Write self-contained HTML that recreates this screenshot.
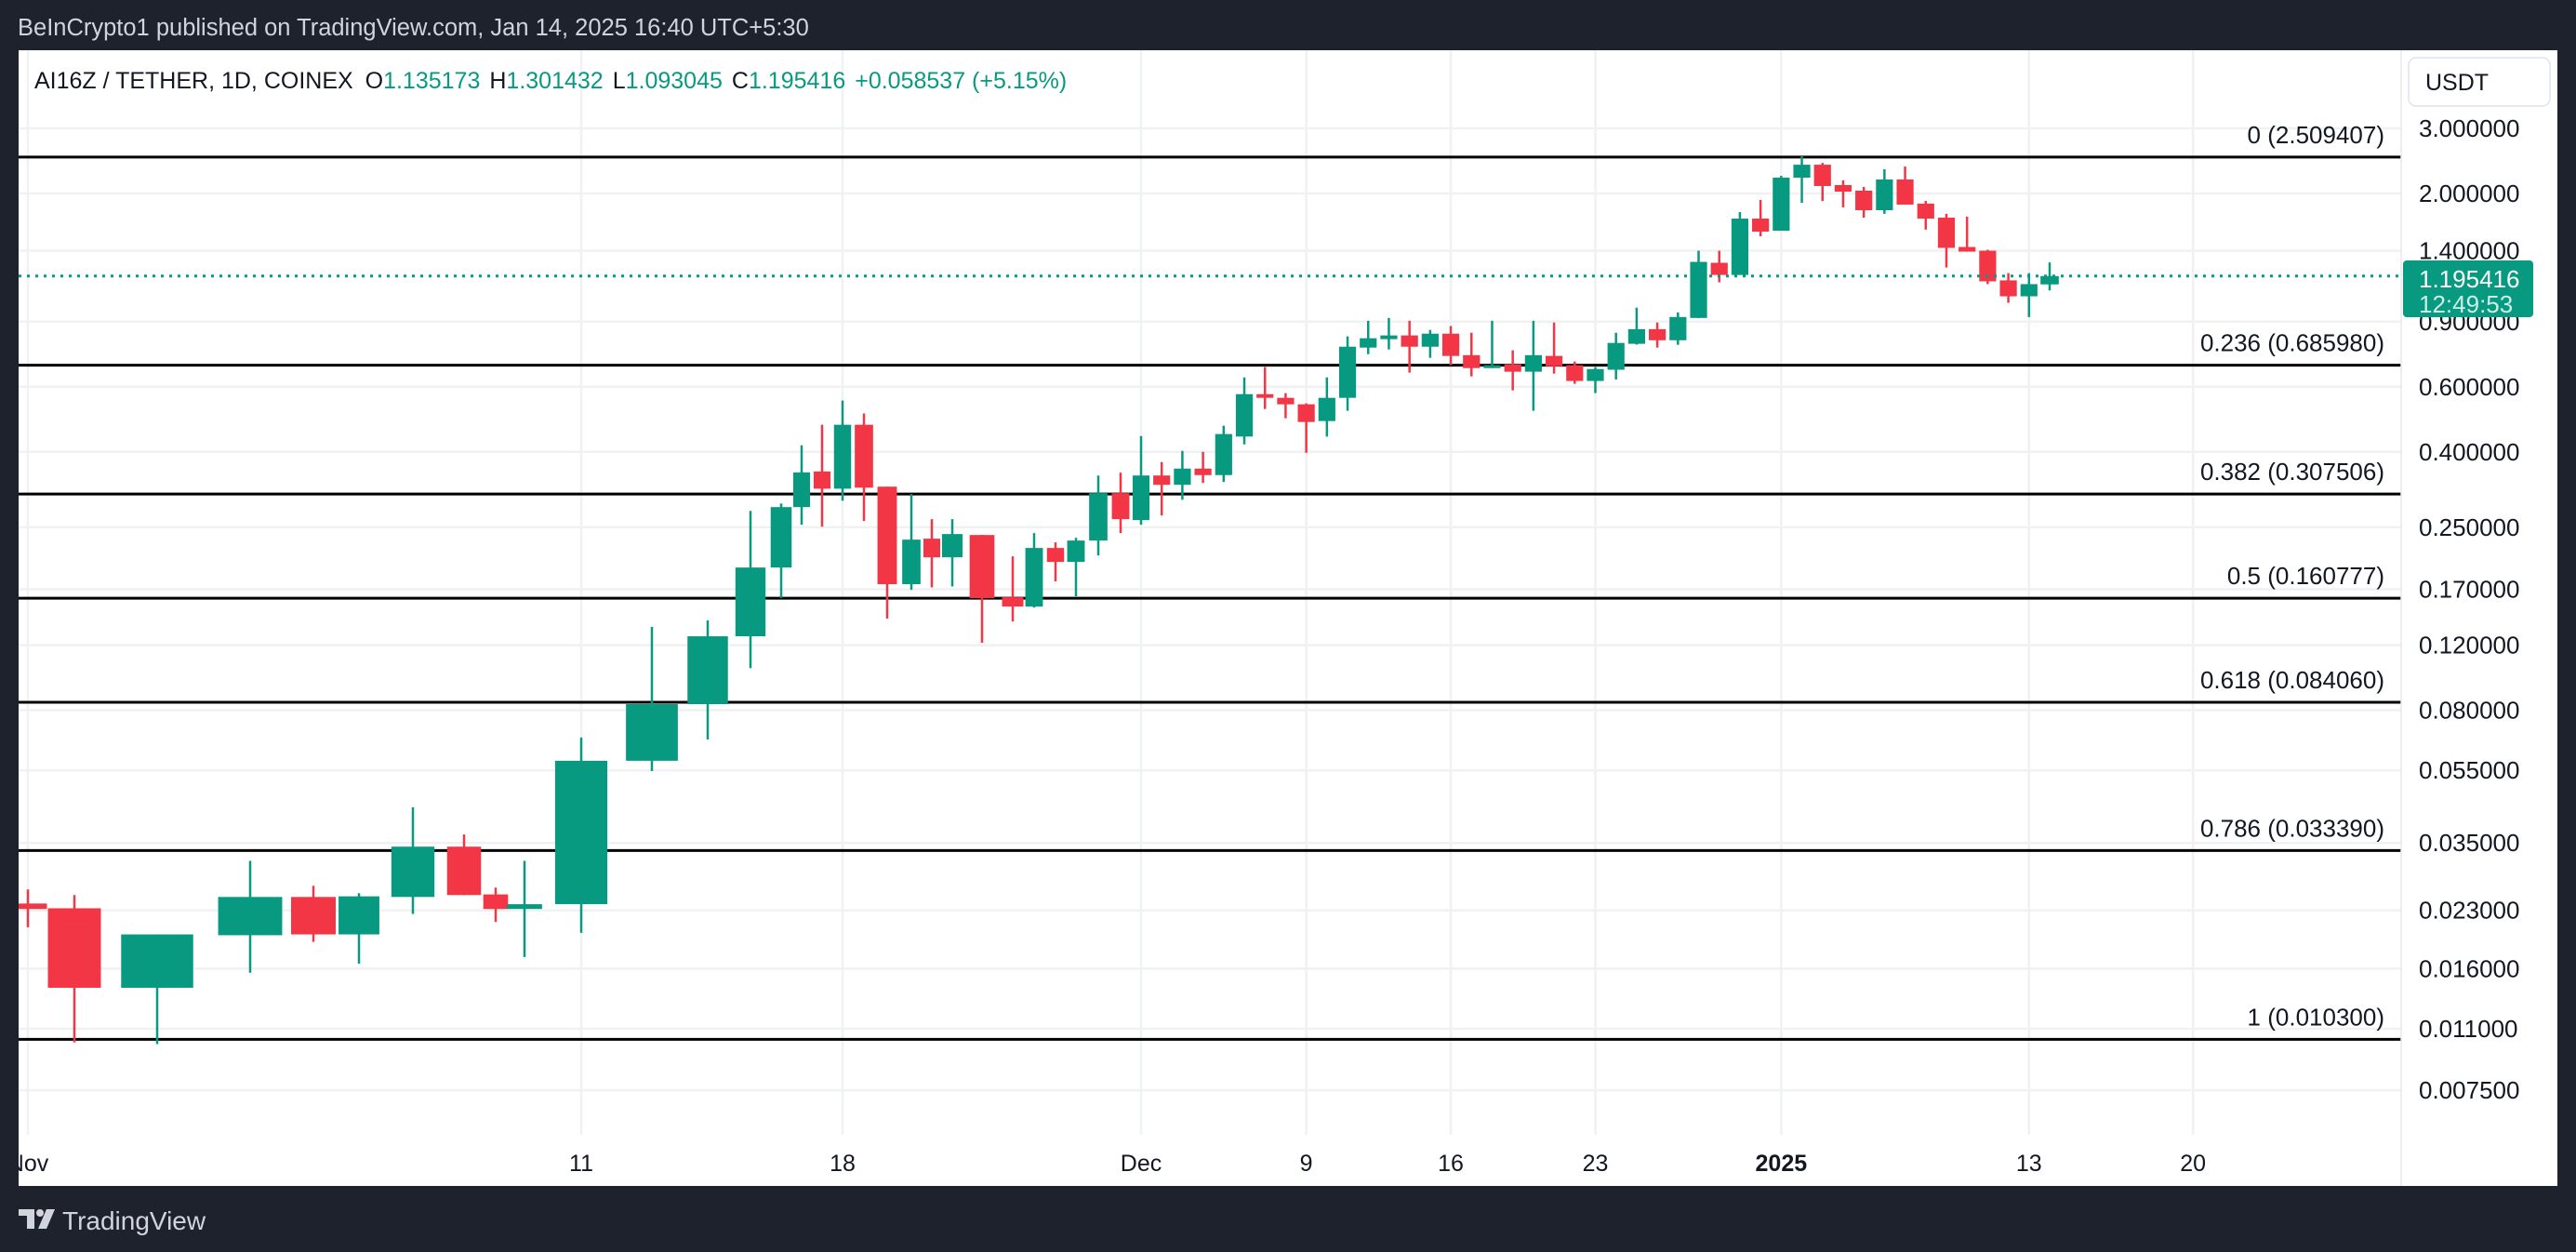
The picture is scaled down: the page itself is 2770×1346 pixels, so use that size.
<!DOCTYPE html>
<html><head><meta charset="utf-8"><style>
html,body{margin:0;padding:0;background:#1e222d;}
svg{display:block;font-family:"Liberation Sans",sans-serif;}
</style></head><body>
<svg id="chart" xmlns="http://www.w3.org/2000/svg" width="2770" height="1346" viewBox="0 0 2770 1346">
<rect x="0" y="0" width="2770" height="1346" fill="#1e222d"/>
<text x="19" y="38" font-size="25.5" fill="#d1d4dc">BeInCrypto1 published on TradingView.com, Jan 14, 2025 16:40 UTC+5:30</text>
<rect x="20" y="54" width="2730" height="1221" fill="#ffffff"/>
<defs><clipPath id="pane"><rect x="20" y="54" width="2562" height="1166"/></clipPath><clipPath id="taxis"><rect x="20" y="1220" width="2562" height="55"/></clipPath></defs>
<g id="grid" clip-path="url(#pane)"></g>
<g id="fib" clip-path="url(#pane)"></g>
<g id="candles" clip-path="url(#pane)"></g>
<line x1="20" y1="297" x2="2582" y2="297" stroke="#089981" stroke-width="3" stroke-dasharray="3 6" id="lastline"/>
<g id="yaxis"></g>
<g id="xaxis" clip-path="url(#taxis)"></g>
<text x="37" y="95" font-size="25" fill="#131722">AI16Z / TETHER, 1D, COINEX <tspan dx="6">O</tspan><tspan fill="#089981">1.135173</tspan><tspan dx="10">H</tspan><tspan fill="#089981">1.301432</tspan><tspan dx="10">L</tspan><tspan fill="#089981">1.093045</tspan><tspan dx="10">C</tspan><tspan fill="#089981">1.195416</tspan><tspan dx="10" fill="#089981">+0.058537 (+5.15%)</tspan></text>
<rect x="2590" y="62" width="152" height="52" rx="8" fill="#fff" stroke="#e0e3eb" stroke-width="1.5"/>
<text x="2608" y="97" font-size="25" fill="#131722">USDT</text>
<g id="pricetag">
<rect x="2584" y="280" width="140" height="61" rx="4" fill="#089981"/>
<text x="2601" y="309" font-size="26" fill="#ffffff">1.195416</text>
<text x="2601" y="336" font-size="26" fill="#cdeee6">12:49:53</text>
</g>
<g>
<g fill="#d1d4dc">
<rect x="20" y="1300" width="17" height="7"/><rect x="29" y="1300" width="8" height="21"/>
<circle cx="43" cy="1304" r="4"/><polygon points="50,1300 59,1300 50,1321 41,1321"/>
</g>
<text x="67" y="1322" font-size="28" fill="#d1d4dc">TradingView</text>
</g>
</svg>
<script>
// ---- data ----
const dayIndex = [0,1,2,3,4,5,6,7,8,9,10,11,12,13,14,15,16,17,18,19,20,21,22,23,24,25,26,27,28,29,30,31,32,33,34,35,36,37,38,39,40,41,42,43,44,45,46,47,48,49,50,51,52,53,54,55,56,57,58,59,60,61,62,63,64,65,66,67,68,69,70,71,72,73,74];
const opens  = [.0240,.0233,.0142,.0197,.0250,.0198,.0250,.0342,.0254,.0232,.0239,.0584,.0831,.1268,.1946,.2835,.354,.318,.4735,.322,.1754,.2329,.2074,.2383,.1617,.1526,.2198,.2015,.2302,.3093,.2615,.3452,.3258,.3604,.3461,.440,.573,.560,.5378,.4846,.560,.7657,.807,.826,.770,.835,.7305,.674,.690,.659,.727,.686,.622,.667,.784,.859,.8016,.921,1.2985,1.204,1.710,1.586,2.207,2.392,2.107,2.035,1.802,2.182,1.877,1.720,1.433,1.400,1.164,1.054,1.135173];
const highs  = [.0262,.0253,.0198,.0313,.0268,.0256,.0437,.0369,.0265,.0313,.0675,.1344,.140,.277,.290,.4165,.4735,.5505,.508,.322,.3075,.263,.263,.2383,.2086,.2411,.2276,.2342,.3452,.3513,.4414,.3753,.4023,.400,.4708,.636,.678,.5766,.541,.636,.821,.905,.921,.905,.855,.876,.840,.905,.7526,.905,.895,.702,.678,.840,.982,.895,.9536,1.40,1.40,1.781,1.920,2.232,2.522,2.420,2.171,2.083,2.325,2.365,1.909,1.762,1.731,1.408,1.218,1.218,1.301432];
const lows   = [.0207,.0101,.0100,.0156,.0189,.0165,.0225,.0253,.0214,.0172,.0200,.0548,.0667,.104,.161,.254,.251,.295,.260,.1416,.1694,.172,.173,.1218,.1391,.1517,.1785,.1627,.2098,.2411,.254,.2691,.2969,.3296,.3316,.419,.5225,.4931,.3977,.440,.5165,.735,.757,.655,.7185,.686,.640,.674,.5866,.5165,.651,.611,.5766,.628,.780,.7657,.7792,.921,1.150,1.204,1.532,1.586,1.887,1.907,1.834,1.720,1.762,1.866,1.597,1.261,1.392,1.137,1.012,.926,1.093045];
const closes = [.0232,.0142,.0198,.0250,.0198,.0251,.0342,.0253,.0232,.0239,.0584,.0831,.1268,.1946,.2835,.352,.318,.4735,.320,.1754,.2315,.2074,.2397,.1608,.1526,.2198,.2015,.2302,.3093,.263,.3452,.3258,.3604,.3461,.4469,.573,.560,.5378,.4818,.560,.770,.8116,.826,.770,.835,.727,.674,.686,.6589,.7305,.682,.622,.670,.7883,.859,.8016,.9265,1.306,1.204,1.710,1.577,2.207,2.392,2.095,2.023,1.802,2.182,1.866,1.710,1.425,1.392,1.157,1.054,1.137,1.195416];
const priceTicks = [3.0,2.0,1.4,0.9,0.6,0.4,0.25,0.17,0.12,0.08,0.055,0.035,0.023,0.016,0.011,0.0075];
const priceTickLabels = ["3.000000","2.000000","1.400000","0.900000","0.600000","0.400000","0.250000","0.170000","0.120000","0.080000","0.055000","0.035000","0.023000","0.016000","0.011000","0.007500"];
const fibRatios = ["0","0.236","0.382","0.5","0.618","0.786","1"];
const fibPrices = [2.509407,0.685980,0.307506,0.160777,0.084060,0.033390,0.010300];
const timeTickDays = [0,10,17,30,38,45,52,61,73,80];
const timeTickLabels = ["Nov","11","18","Dec","9","16","23","2025","13","20"];
const lastPrice = 1.195416;

// ---- axes ----
function yScale(p){ return 138 + 172.6*Math.log(3/p); }
const axisBreakDays = [0,1,2,3,4,5,6,7,8,9,10,11,12,13,14,15,16,17,18,19,20,21,22,23,24,25,26,27,28,29,30,74];
const axisBreakX    = [30,80,169,269,337,386,444,499,533,564,625,701,761,807,840,862,884,906,929,954,980,1002,1024,1056,1089,1112,1135,1157,1181,1205,1227,2204];
function xScale(d){
  const n=axisBreakDays.length;
  if(d<=axisBreakDays[0]) return axisBreakX[0]+(d-axisBreakDays[0])*50;
  if(d>=axisBreakDays[n-1]) return axisBreakX[n-1]+(d-axisBreakDays[n-1])*25.7;
  for(let i=0;i<n-1;i++){
    if(d>=axisBreakDays[i]&&d<=axisBreakDays[i+1]){
      const t=(d-axisBreakDays[i])/(axisBreakDays[i+1]-axisBreakDays[i]);
      return axisBreakX[i]+t*(axisBreakX[i+1]-axisBreakX[i]);
    }
  }
}
const NS="http://www.w3.org/2000/svg";
function mk(tag,attrs,parent){const e=document.createElementNS(NS,tag);for(const k in attrs)e.setAttribute(k,attrs[k]);parent.appendChild(e);return e;}

const grid=document.getElementById('grid');
priceTicks.forEach((p,i)=>{
  const y=yScale(p);
  const l=mk('line',{x1:20,x2:2582,y1:y,y2:y,stroke:'#f0f1f3','stroke-width':2.5},grid);
  
  
});
timeTickDays.forEach((d,i)=>{
  const x=xScale(d);
  const l=mk('line',{x1:x,x2:x,y1:54,y2:1220,stroke:'#f0f1f3','stroke-width':2.5},grid);
  
  
});

const fib=document.getElementById('fib');
fibPrices.forEach((p,i)=>{
  const y=yScale(p);
  const l=mk('line',{x1:20,x2:2582,y1:y,y2:y,stroke:'#000','stroke-width':3},fib);
  
  
  const t=mk('text',{x:2564,y:y-15,'font-size':26,fill:'#131722','text-anchor':'end'},fib);
  t.textContent=fibRatios[i]+' ('+p.toFixed(6)+')';
  
  
});

const cg=document.getElementById('candles');
dayIndex.forEach((d,i)=>{
  const o=opens[i],h=highs[i],l=lows[i],c=closes[i];
  const up=c>=o; const col=up?'#089981':'#f23645';
  const x=xScale(d);
  const sp=(xScale(d+1)-xScale(d-1))/2;
  const w=Math.max(6,sp*0.82);
  const g=mk('g',{},cg);
  
  
  const wk=mk('line',{x1:x,x2:x,y1:yScale(h),y2:yScale(l),stroke:col,'stroke-width':2.5},g);
  
  
  const yt=yScale(Math.max(o,c)), yb=yScale(Math.min(o,c));
  const b=mk('rect',{x:x-w/2,y:yt,width:w,height:Math.max(3,yb-yt),fill:col},g);
  
  
});

const ly=yScale(lastPrice);
document.getElementById('lastline').setAttribute('y1',ly);
document.getElementById('lastline').setAttribute('y2',ly);

const ya=document.getElementById('yaxis');
mk('line',{x1:2582,x2:2582,y1:54,y2:1275,stroke:'#e8e9ec','stroke-width':1.5},ya);
priceTicks.forEach((p,i)=>{
  const t=mk('text',{x:2601,y:yScale(p)+9,'font-size':26,fill:'#131722'},ya);
  t.textContent=priceTickLabels[i];
  
  
});
document.getElementById('chart').appendChild(document.getElementById('pricetag'));

const xa=document.getElementById('xaxis');
timeTickDays.forEach((d,i)=>{
  const t=mk('text',{x:xScale(d),y:1259,'font-size':25,fill:'#131722','text-anchor':'middle'},xa);
  if(timeTickLabels[i]==='2025') t.setAttribute('font-weight','bold');
  t.textContent=timeTickLabels[i];
  
  
});
</script>
</body></html>
